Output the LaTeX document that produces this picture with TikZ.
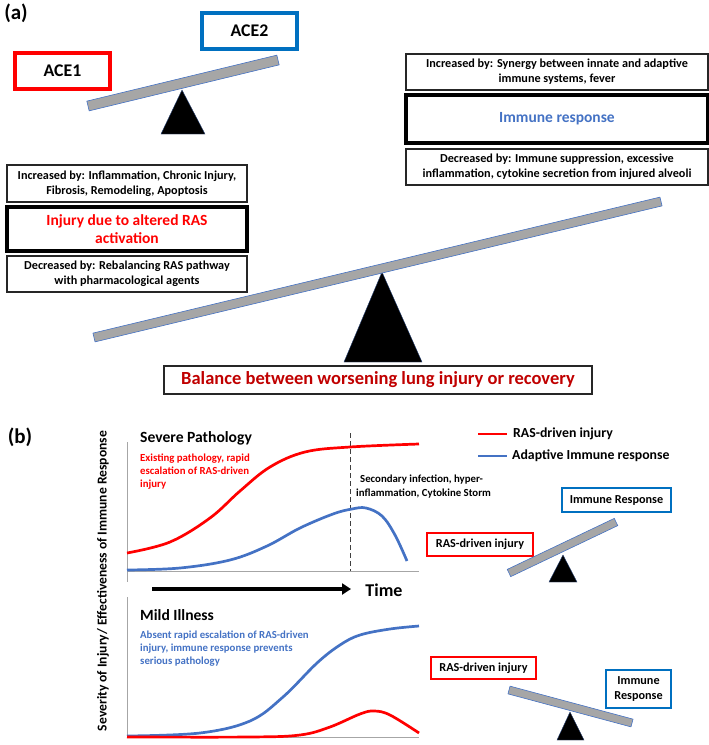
\documentclass[tikz,border=0pt]{standalone}
\usepackage{fontspec}
\setmainfont{Carlito}
\usetikzlibrary{arrows.meta,calc}
\definecolor{myred}{HTML}{FF0000}
\definecolor{aceblue}{HTML}{0070C0}
\definecolor{lineblue}{HTML}{4472C4}
\definecolor{darkred}{HTML}{C00000}
\definecolor{beamgray}{HTML}{A6A6A6}
\definecolor{axisgray}{HTML}{A6A6A6}
\newcommand\fsz[2]{\fontsize{#1}{#2}\selectfont}
\begin{document}
\begin{tikzpicture}[x=1pt,y=-1pt,
  every node/.style={font=\bfseries, inner sep=0pt, align=center},
  thinbox/.style={draw=black!85, line width=1.3pt},
  thickbox/.style={draw=black, line width=3.8pt},
  redbox/.style={draw=myred, line width=3.2pt},
  bluebox/.style={draw=aceblue, line width=3.2pt},
  smallred/.style={draw=myred, line width=2.6pt},
  smallblue/.style={draw=aceblue, line width=2.6pt},
  beam/.style={fill=beamgray, draw=lineblue, line width=0.6pt},
  fulcrum/.style={fill=black, draw=lineblue!60!black, line width=0.4pt},
  axis/.style={draw=axisgray, line width=1pt},
  redcurve/.style={draw=myred, line width=2.7pt, smooth, tension=0.6},
  bluecurve/.style={draw=lineblue, line width=2.7pt, smooth, tension=0.6},
  panel/.style={font=\bfseries\fsz{21}{25}},
  boxtext/.style={font=\bfseries\fsz{12.2}{15}},
  smalltext/.style={font=\bfseries\fsz{12.2}{15}}
]
\useasboundingbox (0,0) rectangle (709,745);

% ---------- (a) ----------
\node[panel] (la) at (16,13) {(a)};
\node[redbox, minimum width=95pt, minimum height=36pt, font=\bfseries\fsz{17.8}{21}] (ace1) at (62.5,71) {ACE1};
\node[bluebox, minimum width=95pt, minimum height=36pt, font=\bfseries\fsz{17.8}{21}] (ace2) at (249.5,31) {ACE2};

% small seesaw
\coordinate (sl) at (88,106);
\coordinate (sr) at (278,60);
\draw[fulcrum] (182,90) -- (205,134) -- (161,134) -- cycle;
\draw[beam] ($(sl)!5pt!90:(sr)$) -- ($(sr)!5pt!-90:(sl)$) -- ($(sr)!5pt!90:(sl)$) -- ($(sl)!5pt!-90:(sr)$) -- cycle;

% left boxes
\node[thinbox, boxtext, minimum width=240pt, minimum height=37pt] (linc) at (127,183.5)
  {Increased by: Inflammation, Chronic Injury,\\ Fibrosis, Remodeling, Apoptosis};
\node[thickbox, minimum width=240pt, minimum height=44pt, font=\bfseries\fsz{15.5}{18}, text=myred] (linj) at (127,229)
  {Injury due to altered RAS\\ activation};
\node[thinbox, boxtext, minimum width=240pt, minimum height=36pt] (ldec) at (127,274)
  {Decreased by: Rebalancing RAS pathway\\ with pharmacological agents};

% right boxes
\node[thinbox, boxtext, minimum width=302pt, minimum height=36pt] (rinc) at (557,72)
  {Increased by: Synergy between innate and adaptive\\ immune systems, fever};
\node[thickbox, minimum width=302pt, minimum height=48pt, font=\bfseries\fsz{15.5}{18}, text=lineblue] (rimm) at (557,119)
  {Immune response};
\node[thinbox, boxtext, minimum width=302pt, minimum height=36pt] (rdec) at (557,167)
  {Decreased by: Immune suppression, excessive\\ inflammation, cytokine secretion from injured alveoli};

% large seesaw
\coordinate (bl) at (94,337.5);
\coordinate (br) at (661,201.5);
\draw[fulcrum] (382,272) -- (422,362) -- (344,362) -- cycle;
\draw[beam] ($(bl)!4.5pt!90:(br)$) -- ($(br)!4.5pt!-90:(bl)$) -- ($(br)!4.5pt!90:(bl)$) -- ($(bl)!4.5pt!-90:(br)$) -- cycle;

\node[thinbox, minimum width=428pt, minimum height=28pt, font=\bfseries\fsz{18.5}{22}, text=darkred] (bal) at (378,380)
  {Balance between worsening lung injury or recovery};

% ---------- (b) ----------
\node[panel] (lb) at (20,437) {(b)};

\node[rotate=90, font=\bfseries\fsz{13.6}{16}] (ylab) at (103,581)
  {Severity of Injury/ Effectiveness of Immune Response};

% top plot axes
\coordinate (t0) at (127,571);
\coordinate (ttop) at (127,442);
\coordinate (tend) at (419,571);
\draw[axis] (ttop) -- (127,582);
\draw[axis] (t0) -- (tend);
\coordinate (dtop) at (350,433);
\coordinate (dbot) at (350,571);
\draw[black!75, line width=0.9pt, dash pattern=on 5pt off 3pt] (dtop) -- (dbot);

\draw[redcurve] plot coordinates {(127,553) (170,542) (210,518) (240,491) (270,467) (305,452) (350,447) (419,444)};
\draw[bluecurve] plot coordinates {(127,570) (180,568) (230,560) (267,546) (300,528) (333,514) (352,509) (366,508) (382,516) (395,535) (407,561)};

\node[anchor=west, font=\bfseries\fsz{15.6}{18}] (sev) at (140,438) {Severe Pathology};
\node[anchor=north west, align=left, text=myred, font=\bfseries\fsz{10.8}{12.8}] (sevtxt) at (140,454)
  {Existing pathology, rapid\\ escalation of RAS-driven\\ injury};
\node[anchor=north west, align=left, font=\bfseries\fsz{10.8}{14}] (sec) at (356,475)
  {\hspace*{4pt}Secondary infection, hyper-\\ inflammation, Cytokine Storm};

% legend
\coordinate (lr1) at (478,434);
\coordinate (lr2) at (507,434);
\coordinate (lb1) at (478,456);
\coordinate (lb2) at (507,456);
\draw[myred, line width=2.7pt] (lr1) -- (lr2);
\draw[lineblue, line width=2.7pt] (lb1) -- (lb2);
\node[anchor=west, font=\bfseries\fsz{13.8}{16}] (leg1) at (513,434) {RAS-driven injury};
\node[anchor=west, font=\bfseries\fsz{13.8}{16}] (leg2) at (512,456) {Adaptive Immune response};

% time arrow
\coordinate (ta) at (152,589);
\coordinate (tb) at (351,589);
\draw[line width=3.5pt, -{Triangle[length=9pt,width=11pt]}] (ta) -- (tb);
\node[font=\bfseries\fsz{18}{21}] (time) at (384,590) {Time};

% top small seesaw
\node[smallblue, smalltext, minimum width=109pt, minimum height=24pt] (imm1) at (616.5,500) {Immune Response};
\node[smallred, smalltext, minimum width=106pt, minimum height=23pt] (ras1) at (480,544.5) {RAS-driven injury};
\coordinate (s1l) at (509,573);
\coordinate (s1r) at (616,522);
\draw[fulcrum] (563,555) -- (577,582) -- (549,582) -- cycle;
\draw[beam] ($(s1l)!4pt!90:(s1r)$) -- ($(s1r)!4pt!-90:(s1l)$) -- ($(s1r)!4pt!90:(s1l)$) -- ($(s1l)!4pt!-90:(s1r)$) -- cycle;

% bottom plot axes
\coordinate (b0) at (127,737);
\coordinate (btop) at (127,597);
\coordinate (bend) at (419,737);
\draw[axis] (btop) -- (b0);
\draw[axis] (b0) -- (bend);

\draw[bluecurve] plot coordinates {(127,736) (200,733) (250,721) (283,697) (317,663) (340,645) (360,635) (390,629) (419,626)};
\draw[redcurve] plot coordinates {(127,737) (250,737) (300,735) (330,727) (360,714) (374,711) (390,715) (419,733)};

\node[anchor=west, font=\bfseries\fsz{15.6}{18}] (mild) at (140,615) {Mild Illness};
\node[anchor=north west, align=left, text=lineblue, font=\bfseries\fsz{10.8}{13}] (mildtxt) at (140,631)
  {Absent rapid escalation of RAS-driven\\ injury, immune response prevents\\ serious pathology};

% bottom small seesaw
\node[smallred, smalltext, minimum width=105pt, minimum height=22pt] (ras2) at (483.5,668) {RAS-driven injury};
\node[smallblue, smalltext, minimum width=65pt, minimum height=38pt] (imm2) at (638.5,689) {Immune\\ Response};
\coordinate (s2l) at (509,690);
\coordinate (s2r) at (632,723);
\draw[fulcrum] (570,712) -- (584,740) -- (557,740) -- cycle;
\draw[beam] ($(s2l)!4pt!90:(s2r)$) -- ($(s2r)!4pt!-90:(s2l)$) -- ($(s2r)!4pt!90:(s2l)$) -- ($(s2l)!4pt!-90:(s2r)$) -- cycle;
\end{tikzpicture}
\end{document}
